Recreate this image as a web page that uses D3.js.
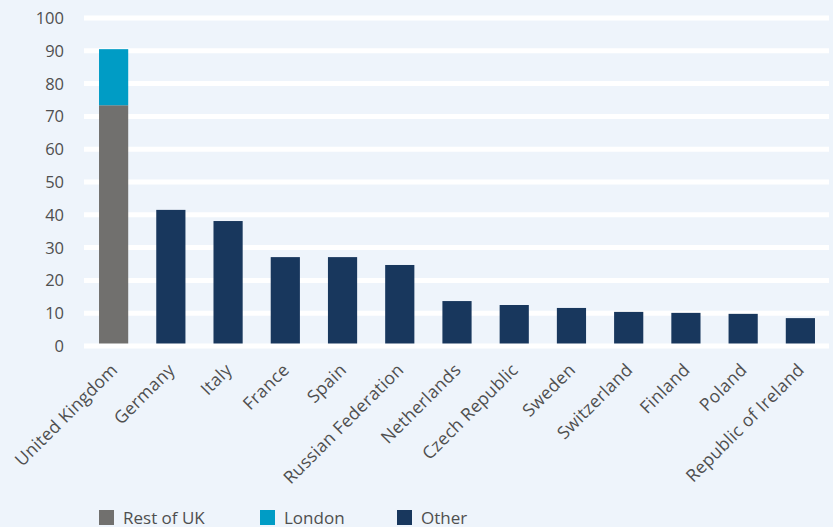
<!DOCTYPE html>
<html>
<head>
<meta charset="utf-8">
<script src="https://cdn.jsdelivr.net/npm/d3@7"></script>
<style>
  html, body { margin: 0; padding: 0; background: #eef4fb; }
  svg { display: block; }
  text { font-family: "Open Sans", sans-serif; fill: #4f4f4f; }
</style>
</head>
<body>
<svg id="chart" width="833" height="527"></svg>
<script>
// Countries along the x axis
const countries = [
  "United Kingdom", "Germany", "Italy", "France", "Spain",
  "Russian Federation", "Netherlands", "Czech Republic", "Sweden",
  "Switzerland", "Finland", "Poland", "Republic of Ireland"
];
// Series values (UK split into Rest of UK + London, other countries as Other)
const restOfUK = [73.4, 0, 0, 0, 0, 0, 0, 0, 0, 0, 0, 0, 0];
const london   = [17.1, 0, 0, 0, 0, 0, 0, 0, 0, 0, 0, 0, 0];
const other    = [0, 41.5, 38.1, 27.1, 27.1, 24.7, 13.7, 12.5, 11.6, 10.4, 10.1, 9.8, 8.5];
// Y axis ticks
const yTicks = [0, 10, 20, 30, 40, 50, 60, 70, 80, 90, 100];
// Legend
const seriesNames = ["Rest of UK", "London", "Other"];
const seriesKeys = ["rest", "london", "other"];
const seriesColors = ["#71706e", "#009cc5", "#18375d"];

const svg = d3.select("#chart");
svg.append("rect").attr("width", 833).attr("height", 527).attr("fill", "#eef4fb");

const x = d3.scaleBand().domain(countries).range([85, 829])
  .paddingInner(0.49).paddingOuter(0.245);
const y = d3.scaleLinear().domain([0, 100]).range([346, 18]);
const color = d3.scaleOrdinal().domain(seriesKeys).range(seriesColors);

// Horizontal gridlines
svg.append("g").selectAll("line")
  .data(yTicks.filter(t => t > 0))
  .join("line")
  .attr("x1", 84).attr("x2", 829)
  .attr("y1", d => y(d)).attr("y2", d => y(d))
  .attr("stroke", "#ffffff").attr("stroke-width", 5);

// Stacked bars
const rows = countries.map((c, i) => ({ country: c, rest: restOfUK[i], london: london[i], other: other[i] }));
const stacked = d3.stack().keys(seriesKeys)(rows);
svg.append("g").selectAll("g")
  .data(stacked)
  .join("g")
  .attr("fill", d => color(d.key))
  .selectAll("rect")
  .data(d => d.filter(s => s[1] > s[0]))
  .join("rect")
  .attr("x", d => x(d.data.country))
  .attr("width", x.bandwidth())
  .attr("y", d => y(d[1]))
  .attr("height", d => y(d[0]) - y(d[1]));

// Baseline over the bars
svg.append("line")
  .attr("x1", 84).attr("x2", 829)
  .attr("y1", y(0)).attr("y2", y(0))
  .attr("stroke", "#ffffff").attr("stroke-width", 5);

// Y tick labels
svg.append("g").selectAll("text")
  .data(yTicks)
  .join("text")
  .attr("x", 64)
  .attr("y", d => y(d))
  .attr("dy", "0.36em")
  .attr("text-anchor", "end")
  .attr("font-size", 16.5)
  .text(d => d);

// X axis labels, rotated
const xAxis = svg.append("g")
  .attr("transform", `translate(0, ${y(0)})`)
  .call(d3.axisBottom(x).tickSize(0).tickPadding(0));
xAxis.select(".domain").remove();
xAxis.selectAll("text")
  .attr("font-size", 17.5)
  .attr("letter-spacing", 0.3)
  .attr("fill", "#4f4f4f")
  .attr("text-anchor", "end")
  .attr("dy", "0")
  .attr("transform", "translate(5, 25) rotate(-45)");

// Legend
const legend = svg.append("g").selectAll("g")
  .data(seriesNames)
  .join("g")
  .attr("transform", (d, i) => `translate(${[99, 260, 397][i]}, 510)`);
legend.append("rect")
  .attr("width", 15).attr("height", 15)
  .attr("fill", (d, i) => seriesColors[i]);
legend.append("text")
  .attr("x", 24).attr("y", 13.5)
  .attr("font-size", 17)
  .text(d => d);
</script>
</body>
</html>
